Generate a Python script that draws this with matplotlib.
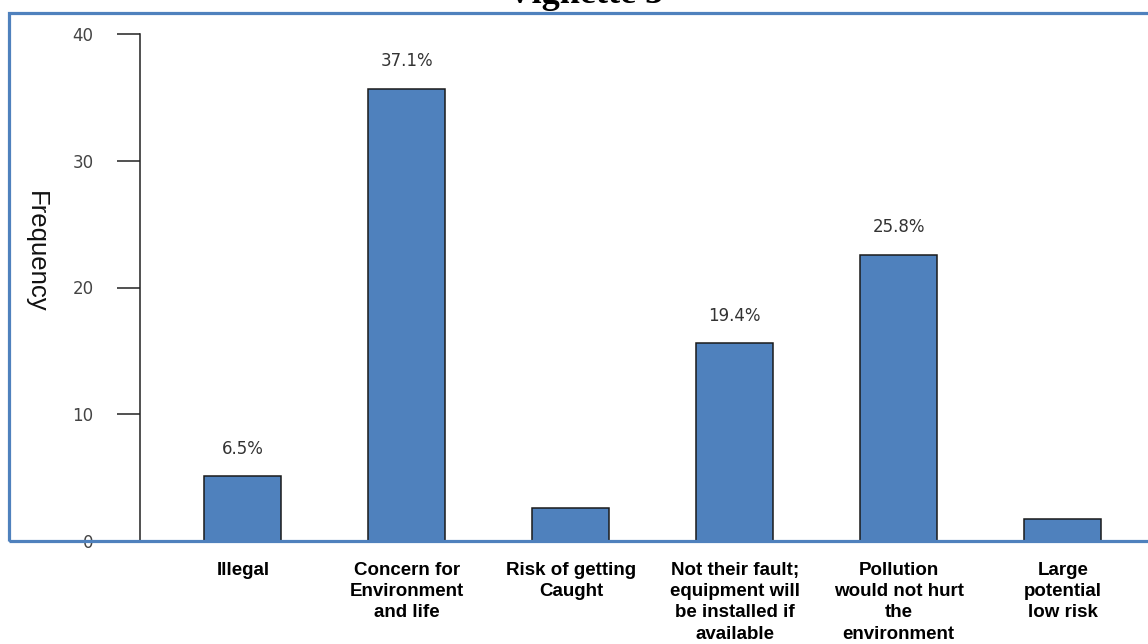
import matplotlib.pyplot as plt
from matplotlib.patches import Rectangle
import numpy as np

# categories and bar heights (frequency)
categories = ['Illegal',
              'Concern for\nEnvironment\nand life',
              'Risk of getting\nCaught',
              'Not their fault;\nequipment will\nbe installed if\navailable',
              'Pollution\nwould not hurt\nthe\nenvironment',
              'Large\npotential\nlow risk']
frequency = [5.1, 35.7, 2.6, 15.6, 22.6, 1.7]
pct_labels = ['6.5%', '37.1%', '', '19.4%', '25.8%', '']
yticks = [0, 10, 20, 30, 40]

BLUE = '#4f81bd'
W, H = 1148, 644

fig = plt.figure(figsize=(W / 100, H / 100), dpi=100)

# axes: left spine at x=140px, zero line at y=541px, 40 at y=34px
ax = fig.add_axes([140 / W, (H - 541) / H, (W - 140) / W, 507 / H])
x = np.arange(len(categories))
ax.bar(x, frequency, width=0.47, color=BLUE, edgecolor='#1a1a1a',
       linewidth=1.1, zorder=3)

for xi, val, lab in zip(x, frequency, pct_labels):
    if lab:
        ax.annotate(lab, (xi, val), xytext=(0, 13), textcoords='offset points',
                    ha='center', va='bottom', fontsize=12, color='#333333',
                    family='DejaVu Sans')

ax.set_xlim(-0.628, 5.52)
ax.set_ylim(0, 40)
ax.set_yticks(yticks)
ax.set_yticklabels([str(t) for t in yticks], fontsize=12, color='#444444')
ax.tick_params(axis='y', length=16.5, width=1.1, pad=17, color='#222222')
ax.set_xticks(x)
ax.set_xticklabels(categories, fontsize=13.5, fontweight='bold',
                   family='Liberation Sans', linespacing=1.33)
ax.tick_params(axis='x', length=0, pad=15)
for s in ['top', 'right', 'bottom']:
    ax.spines[s].set_visible(False)
ax.spines['left'].set_linewidth(1.1)
ax.spines['left'].set_color('#222222')

ax.set_ylabel('Frequency', rotation=270, fontsize=18.5, family='Liberation Sans',
              color='#111111', labelpad=0)
ax.yaxis.set_label_coords(-0.115, 0.57)

# blue frame round the plot (right edge runs off the image)
fig.add_artist(Rectangle((9 / W, (H - 541) / H), 1.2, (541 - 13) / H,
                         transform=fig.transFigure, fill=False,
                         edgecolor=BLUE, linewidth=2.3, clip_on=False))

# title cut off at the top edge
fig.text(585 / W, 1 - 3 / H, 'Vignette 3', ha='center', va='baseline',
         fontsize=26, fontweight='bold', family='Liberation Serif')

fig.savefig('out.png', dpi=100)
